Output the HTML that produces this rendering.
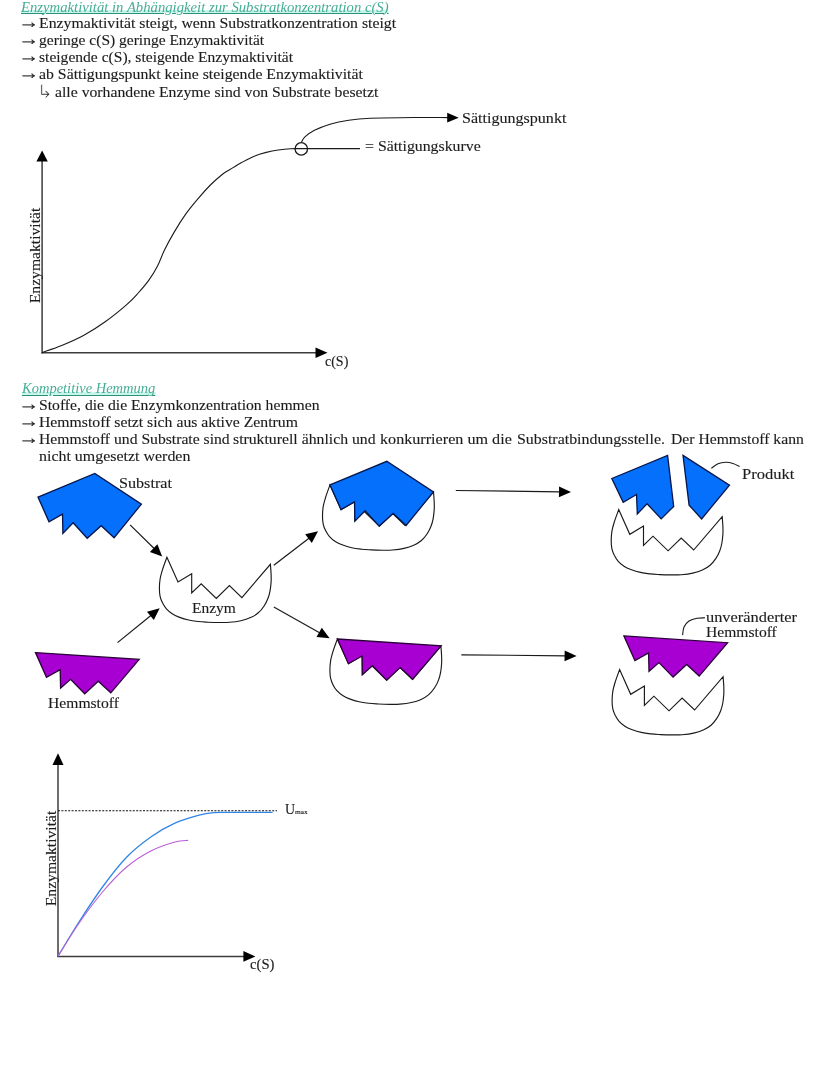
<!DOCTYPE html>
<html lang="de"><head><meta charset="utf-8"><title>Enzymaktivität</title>
<style>
html,body{margin:0;padding:0;background:#fff;}
#pg{position:relative;width:828px;height:1086px;overflow:hidden;background:#fff;font-family:"Liberation Serif", serif;font-size:14px;color:#1c1c1c;}
.t{position:absolute;white-space:pre;line-height:1;margin:0;transform-origin:0 0;}
.h{color:#45ad95;font-style:italic;text-decoration:underline;text-decoration-color:#2c917a;text-decoration-thickness:1px;text-underline-offset:1.5px;margin-top:-0.7px !important;background:linear-gradient(to bottom,rgba(190,243,230,0) 9.6px,rgba(190,243,230,.9) 10.6px,rgba(190,243,230,.9) 12.4px,rgba(190,243,230,0) 13.2px);}
.b{-webkit-text-stroke:0.12px #1c1c1c;}
svg{position:absolute;left:0;top:0;}
</style></head><body><div id="pg">
<svg width="828" height="1086" viewBox="0 0 828 1086" fill="none" stroke-linejoin="miter">
<g id="g1">
<line x1="42.1" y1="353.4" x2="42.1" y2="160.5" stroke="#3c3c3c" stroke-width="1.50"/><polygon points="42.1,150.5 47.8,161.5 36.4,161.5" fill="#000"/>
<line x1="41.4" y1="352.8" x2="316.5" y2="352.8" stroke="#3c3c3c" stroke-width="1.50"/><polygon points="327.5,352.8 315.5,358.1 315.5,347.5" fill="#000"/>
<path d="M42.2,352.4 C45.5,351.2 54.8,348.2 61.7,345.4 C68.6,342.6 76.2,339.3 83.5,335.4 C90.8,331.4 98.0,326.9 105.2,321.7 C112.5,316.5 121.6,309.0 127.0,304.3 C132.4,299.6 134.2,297.5 137.8,293.5 C141.4,289.5 145.4,284.9 148.7,280.4 C152.0,275.9 154.8,271.4 157.4,266.3 C160.0,261.2 161.7,255.7 164.5,250.0 C167.3,244.3 170.6,238.2 174.2,232.1 C177.8,226.0 182.2,219.0 186.2,213.4 C190.2,207.8 194.3,203.0 198.3,198.3 C202.3,193.6 206.4,189.0 210.4,185.0 C214.4,181.0 219.2,176.8 222.5,174.2 C225.8,171.6 226.7,171.5 230.0,169.5 C233.3,167.5 238.1,164.5 242.1,162.3 C246.1,160.1 250.2,157.8 254.2,156.2 C258.2,154.5 262.2,153.4 266.2,152.4 C270.2,151.4 274.3,150.6 278.3,150.0 C282.3,149.4 286.6,148.9 290.4,148.7 C294.2,148.5 294.7,148.6 301.3,148.6 C307.9,148.6 320.2,148.6 330.0,148.6 C339.8,148.6 355.0,148.6 360.0,148.6" stroke="#1a1a1a" stroke-width="1.1"/>
<circle cx="301.3" cy="148.9" r="6.2" stroke="#1a1a1a" stroke-width="1.3"/>
<path d="M301.3,142.6 C301.9,141.7 302.7,138.9 304.9,136.9 C307.1,134.9 310.3,132.4 314.5,130.3 C318.7,128.2 324.3,125.9 330.0,124.2 C335.7,122.5 342.0,121.2 348.7,120.2 C355.4,119.2 359.5,118.7 370.4,118.2 C381.3,117.8 401.0,117.6 413.9,117.5 C426.8,117.4 442.3,117.6 448.0,117.6" stroke="#1a1a1a" stroke-width="1.1"/>
<polygon points="458.7,117.7 447.2,122.6 447.2,112.8" fill="#000"/>
</g>
<g id="g2">
<polygon points="38.0,497.1 94.8,473.5 141.4,504.1 114.1,537.7 101.2,525.7 87.2,538.3 73.1,522.8 62.9,533.4 62.5,514.1 49.0,521.8" fill="#0470fc" stroke="#06154a" stroke-width="1.3"/>
<polygon points="35.5,652.6 139.2,659.4 110.8,692.8 98.3,681.2 84.7,693.8 70.6,679.3 60.6,688.0 60.2,669.6 46.5,677.3" fill="#a800d2" stroke="#2a0038" stroke-width="1.3"/>
<path d="M166.9,557.2 L178.0,581.9 L191.7,573.7 L191.7,593.0 L201.2,583.8 L216.3,598.4 L229.4,585.6 L241.9,597.6 L270.4,564.3 C270.5,566.0 271.0,571.3 271.1,574.2 C271.2,577.1 271.3,579.2 271.1,581.9 C270.9,584.6 270.6,587.9 270.1,590.6 C269.6,593.3 269.0,595.7 268.0,598.3 C267.0,600.9 265.7,603.6 264.1,606.0 C262.5,608.4 260.6,610.9 258.3,612.8 C256.1,614.7 253.5,616.3 250.6,617.6 C247.7,618.9 244.5,619.9 240.9,620.7 C237.3,621.5 232.8,622.0 229.3,622.3 C225.8,622.6 223.2,622.5 219.7,622.5 C216.1,622.5 211.6,622.4 208.0,622.2 C204.4,622.0 201.5,621.9 198.3,621.5 C195.1,621.1 191.8,620.7 188.6,620.0 C185.4,619.3 181.7,618.1 179.0,617.1 C176.3,616.1 174.3,615.2 172.2,613.8 C170.1,612.4 168.0,610.7 166.4,608.9 C164.8,607.1 163.7,605.2 162.6,603.1 C161.5,601.0 160.6,598.8 160.1,596.4 C159.6,594.0 159.4,591.5 159.4,588.6 C159.4,585.7 159.6,582.2 160.1,579.0 C160.6,575.8 161.5,572.9 162.6,569.3 C163.7,565.7 166.2,559.2 166.9,557.2 Z" fill="#fff" stroke="#1a1a1a" stroke-width="1.15"/>
<line x1="130.1" y1="524.9" x2="154.4" y2="548.8" stroke="#1a1a1a" stroke-width="1.20"/><polygon points="162.2,556.5 149.9,551.9 157.4,544.2" fill="#000"/>
<line x1="117.5" y1="642.6" x2="151.2" y2="615.2" stroke="#1a1a1a" stroke-width="1.20"/><polygon points="159.7,608.3 153.8,620.1 147.0,611.7" fill="#000"/>
<line x1="273.8" y1="565.3" x2="309.3" y2="538.0" stroke="#1a1a1a" stroke-width="1.20"/><polygon points="318.0,531.3 311.8,542.9 305.2,534.3" fill="#000"/>
<line x1="273.8" y1="607.0" x2="320.0" y2="632.9" stroke="#1a1a1a" stroke-width="1.20"/><polygon points="329.6,638.3 316.5,637.1 321.8,627.7" fill="#000"/>
<path d="M330.0,484.9 L341.1,509.6 L354.8,501.4 L354.8,520.7 L364.3,511.5 L379.4,526.1 L392.5,513.3 L405.0,525.3 L433.5,492.0 C433.6,493.6 434.1,499.0 434.2,501.9 C434.3,504.8 434.4,506.9 434.2,509.6 C434.0,512.3 433.7,515.6 433.2,518.3 C432.7,521.0 432.1,523.4 431.1,526.0 C430.1,528.6 428.8,531.3 427.2,533.7 C425.6,536.1 423.6,538.6 421.4,540.5 C419.1,542.4 416.6,544.0 413.7,545.3 C410.8,546.6 407.6,547.6 404.0,548.4 C400.4,549.2 395.9,549.7 392.4,550.0 C388.9,550.3 386.4,550.2 382.8,550.2 C379.2,550.2 374.7,550.1 371.1,549.9 C367.5,549.7 364.6,549.6 361.4,549.2 C358.2,548.8 354.9,548.4 351.7,547.7 C348.5,547.0 344.8,545.8 342.1,544.8 C339.4,543.8 337.4,542.9 335.3,541.5 C333.2,540.1 331.1,538.4 329.5,536.6 C327.9,534.8 326.8,532.9 325.7,530.8 C324.6,528.7 323.7,526.5 323.2,524.1 C322.7,521.7 322.5,519.2 322.5,516.3 C322.5,513.4 322.7,509.9 323.2,506.7 C323.7,503.5 324.6,500.6 325.7,497.0 C326.8,493.4 329.3,486.9 330.0,484.9 Z" fill="#fff" stroke="#1a1a1a" stroke-width="1.15"/>
<polygon points="330.0,484.9 386.8,461.3 433.4,491.9 406.1,525.5 393.2,513.5 379.2,526.1 365.1,510.6 354.9,521.2 354.5,501.9 341.0,509.6" fill="#0470fc" stroke="#06154a" stroke-width="1.3"/>
<path d="M337.4,639.0 L348.5,663.7 L362.2,655.5 L362.2,674.8 L371.7,665.6 L386.8,680.2 L399.9,667.4 L412.4,679.4 L440.9,646.1 C441.0,647.8 441.5,653.1 441.6,656.0 C441.7,658.9 441.8,661.0 441.6,663.7 C441.4,666.4 441.1,669.7 440.6,672.4 C440.1,675.1 439.5,677.5 438.5,680.1 C437.5,682.7 436.2,685.4 434.6,687.8 C433.0,690.2 431.0,692.7 428.8,694.6 C426.5,696.5 424.0,698.1 421.1,699.4 C418.2,700.7 414.9,701.7 411.4,702.5 C407.8,703.3 403.3,703.8 399.8,704.1 C396.3,704.4 393.8,704.3 390.2,704.3 C386.6,704.3 382.1,704.2 378.5,704.0 C374.9,703.8 372.0,703.7 368.8,703.3 C365.6,702.9 362.3,702.5 359.1,701.8 C355.9,701.1 352.2,699.9 349.5,698.9 C346.8,697.9 344.8,697.0 342.7,695.6 C340.6,694.2 338.5,692.5 336.9,690.7 C335.3,688.9 334.1,687.0 333.1,684.9 C332.0,682.8 331.1,680.6 330.6,678.2 C330.1,675.8 329.9,673.3 329.9,670.4 C329.9,667.5 330.1,664.0 330.6,660.8 C331.1,657.6 332.0,654.7 333.1,651.1 C334.2,647.5 336.7,641.0 337.4,639.0 Z" fill="#fff" stroke="#1a1a1a" stroke-width="1.15"/>
<polygon points="337.4,639.0 441.1,645.8 412.7,679.2 400.2,667.6 386.6,680.2 372.5,665.7 362.5,674.4 362.1,656.0 348.4,663.7" fill="#a800d2" stroke="#2a0038" stroke-width="1.3"/>
<line x1="455.8" y1="490.5" x2="560.0" y2="491.8" stroke="#1a1a1a" stroke-width="1.20"/><polygon points="571.0,491.9 558.9,497.2 559.1,486.4" fill="#000"/>
<line x1="461.3" y1="654.8" x2="565.6" y2="655.8" stroke="#1a1a1a" stroke-width="1.20"/><polygon points="576.6,655.9 564.5,661.2 564.7,650.4" fill="#000"/>
<path d="M618.7,509.6 L629.8,534.3 L643.5,526.1 L643.5,545.4 L653.0,536.2 L668.1,550.8 L681.2,538.0 L693.7,550.0 L722.2,516.7 C722.3,518.4 722.8,523.7 722.9,526.6 C723.0,529.5 723.1,531.6 722.9,534.3 C722.7,537.0 722.4,540.3 721.9,543.0 C721.4,545.7 720.8,548.1 719.8,550.7 C718.8,553.3 717.5,556.0 715.9,558.4 C714.3,560.8 712.4,563.3 710.1,565.2 C707.9,567.1 705.3,568.7 702.4,570.0 C699.5,571.3 696.2,572.3 692.7,573.1 C689.2,573.9 684.6,574.4 681.1,574.7 C677.6,575.0 675.0,574.9 671.5,574.9 C668.0,574.9 663.4,574.8 659.8,574.6 C656.2,574.4 653.3,574.3 650.1,573.9 C646.9,573.5 643.6,573.1 640.4,572.4 C637.2,571.7 633.5,570.5 630.8,569.5 C628.1,568.5 626.1,567.6 624.0,566.2 C621.9,564.8 619.8,563.1 618.2,561.3 C616.6,559.5 615.5,557.6 614.4,555.5 C613.4,553.4 612.4,551.2 611.9,548.8 C611.4,546.4 611.2,543.9 611.2,541.0 C611.2,538.1 611.4,534.6 611.9,531.4 C612.4,528.2 613.3,525.3 614.4,521.7 C615.5,518.1 618.0,511.6 618.7,509.6 Z" fill="#fff" stroke="#1a1a1a" stroke-width="1.15"/>
<polygon points="611.8,478.5 667.6,455.4 673.7,506.4 661.2,518.9 647.1,503.8 637.3,513.9 636.5,494.5 623.2,502.4" fill="#0470fc" stroke="#06154a" stroke-width="1.3"/>
<polygon points="683.0,455.4 729.5,485.2 701.6,518.9 689.1,505.1" fill="#0470fc" stroke="#06154a" stroke-width="1.3"/>
<path d="M711.3,468.3 C712.4,467.6 715.6,464.8 718.0,463.8 C720.4,462.8 723.3,462.4 725.8,462.3 C728.3,462.2 730.7,462.8 733.0,463.5 C735.3,464.2 738.5,465.9 739.6,466.4" stroke="#1a1a1a" stroke-width="1.1"/>
<path d="M619.6,669.6 L630.7,694.3 L644.4,686.1 L644.4,705.4 L653.9,696.2 L669.0,710.8 L682.1,698.0 L694.6,710.0 L723.1,676.7 C723.2,678.4 723.7,683.7 723.8,686.6 C723.9,689.5 724.0,691.6 723.8,694.3 C723.6,697.0 723.3,700.3 722.8,703.0 C722.3,705.7 721.7,708.1 720.7,710.7 C719.7,713.3 718.4,716.0 716.8,718.4 C715.2,720.8 713.2,723.3 711.0,725.2 C708.8,727.1 706.2,728.7 703.3,730.0 C700.4,731.3 697.2,732.3 693.6,733.1 C690.0,733.9 685.5,734.4 682.0,734.7 C678.5,735.0 675.9,734.9 672.4,734.9 C668.9,734.9 664.3,734.8 660.7,734.6 C657.1,734.4 654.2,734.3 651.0,733.9 C647.8,733.5 644.5,733.1 641.3,732.4 C638.1,731.7 634.4,730.5 631.7,729.5 C629.0,728.5 627.0,727.6 624.9,726.2 C622.8,724.8 620.7,723.1 619.1,721.3 C617.5,719.5 616.4,717.6 615.3,715.5 C614.3,713.4 613.3,711.2 612.8,708.8 C612.3,706.4 612.1,703.9 612.1,701.0 C612.1,698.1 612.3,694.6 612.8,691.4 C613.3,688.2 614.2,685.3 615.3,681.7 C616.4,678.1 618.9,671.6 619.6,669.6 Z" fill="#fff" stroke="#1a1a1a" stroke-width="1.15"/>
<polygon points="623.9,635.9 727.6,642.7 699.2,676.1 686.7,664.5 673.1,677.1 659.0,662.6 649.0,671.3 648.6,652.9 634.9,660.6" fill="#a800d2" stroke="#2a0038" stroke-width="1.3"/>
<path d="M682.6,635.1 C682.8,633.8 682.9,629.4 684.0,627.0 C685.1,624.6 686.8,622.5 689.0,621.0 C691.2,619.5 694.3,618.7 697.0,618.2 C699.7,617.7 703.7,617.9 705.0,617.8" stroke="#1a1a1a" stroke-width="1.1"/>
</g>
<g id="g3">
<line x1="58.0" y1="957.0" x2="58.0" y2="763.9" stroke="#3c3c3c" stroke-width="1.50"/><polygon points="58.0,753.3 63.5,764.9 52.5,764.9" fill="#000"/>
<line x1="57.3" y1="956.4" x2="244.4" y2="956.4" stroke="#3c3c3c" stroke-width="1.50"/><polygon points="255.4,956.4 243.4,961.7 243.4,951.1" fill="#000"/>
<line x1="58" y1="810.8" x2="277" y2="810.8" stroke="#111" stroke-width="1.1" stroke-dasharray="2 1.4"/>
<path d="M58.0,956.2 C61.4,950.7 70.9,934.5 78.3,923.0 C85.7,911.5 94.5,898.0 102.5,887.0 C110.5,876.0 118.5,865.5 126.6,857.2 C134.7,848.9 142.8,842.7 150.8,837.0 C158.9,831.3 166.9,826.8 174.9,823.2 C182.9,819.6 192.7,817.0 199.1,815.2 C205.5,813.5 208.4,813.2 213.6,812.7 C218.8,812.2 220.2,812.5 230.0,812.4 C239.8,812.3 265.4,812.4 272.5,812.4" stroke="#2f86e6" stroke-width="1.3"/>
<path d="M58.0,956.2 C61.4,950.9 70.9,934.9 78.3,924.2 C85.7,913.5 94.5,901.5 102.5,892.0 C110.5,882.5 118.5,873.8 126.6,867.0 C134.7,860.2 142.8,855.2 150.8,851.0 C158.9,846.8 168.7,843.8 174.9,842.0 C181.1,840.2 186.0,840.7 188.2,840.4" stroke="#b95fd6" stroke-width="1.1"/>
</g>
</svg>
<div class="t h" id="h1" style="left:21.40px;top:1.50px;transform:scaleX(1.0500);text-underline-offset:0.5px;background-position:0 -1px">Enzymaktivität in Abhängigkeit zur Substratkonzentration c(S)</div>
<div class="t b" id="l1" style="left:39.10px;top:17.30px;transform:scaleX(1.1269)">Enzymaktivität steigt, wenn Substratkonzentration steigt</div>
<div class="t b" id="l2" style="left:39.10px;top:34.30px;transform:scaleX(1.1071)">geringe c(S) geringe Enzymaktivität</div>
<div class="t b" id="l3" style="left:39.10px;top:51.40px;transform:scaleX(1.1116)">steigende c(S), steigende Enzymaktivität</div>
<div class="t b" id="l4" style="left:39.10px;top:68.40px;transform:scaleX(1.1288)">ab Sättigungspunkt keine steigende Enzymaktivität</div>
<div class="t b" id="l5" style="left:54.90px;top:85.50px;transform:scaleX(1.1237)">alle vorhandene Enzyme sind von Substrate besetzt</div>
<div class="t h" id="h2" style="left:21.60px;top:383.10px;transform:scaleX(1.0357)">Kompetitive Hemmung</div>
<div class="t b" id="l6" style="left:39.10px;top:399.30px;transform:scaleX(1.1201)">Stoffe, die die Enzymkonzentration hemmen</div>
<div class="t b" id="l7" style="left:39.10px;top:416.20px;transform:scaleX(1.1242)">Hemmstoff setzt sich aus aktive Zentrum</div>
<div class="t b" id="l8a" style="left:39.10px;top:433.20px;transform:scaleX(1.1187)">Hemmstoff und Substrate sind </div>
<div class="t b" id="l8b" style="left:233.30px;top:433.20px;transform:scaleX(1.1249)">strukturell ähnlich und </div>
<div class="t b" id="l8c" style="left:380.00px;top:433.20px;transform:scaleX(1.1531)">konkurrieren um die </div>
<div class="t b" id="l8d" style="left:516.70px;top:433.20px;transform:scaleX(1.1360)">Substratbindungsstelle. </div>
<div class="t b" id="l8e" style="left:670.60px;top:433.20px;transform:scaleX(1.1186)">Der Hemmstoff kann</div>
<div class="t b" id="l9" style="left:39.10px;top:450.10px;transform:scaleX(1.1387)">nicht umgesetzt werden</div>
<div class="t b" id="sp" style="left:462.40px;top:111.90px;transform:scaleX(1.1471)">Sättigungspunkt</div>
<div class="t b" id="sk" style="left:364.60px;top:140.20px;transform:scaleX(1.1300)">= Sättigungskurve</div>
<div class="t b" id="cs1" style="left:325.40px;top:354.50px;transform:scaleX(0.9988)">c(S)</div>
<div class="t b" id="sub" style="left:119.40px;top:477.30px;transform:scaleX(1.1527)">Substrat</div>
<div class="t b" id="enz" style="left:192.00px;top:602.20px;transform:scaleX(1.1070)">Enzym</div>
<div class="t b" id="hem" style="left:48.40px;top:696.60px;transform:scaleX(1.1163)">Hemmstoff</div>
<div class="t b" id="pro" style="left:742.10px;top:467.80px;transform:scaleX(1.1817)">Produkt</div>
<div class="t b" id="unv" style="left:705.80px;top:610.90px;transform:scaleX(1.1694)">unveränderter</div>
<div class="t b" id="hem2" style="left:705.80px;top:625.80px;transform:scaleX(1.1147)">Hemmstoff</div>
<div class="t b" id="cs2" style="left:250.40px;top:958.30px;transform:scaleX(1.0502)">c(S)</div>
<div class="t b" id="U" style="left:284.70px;top:803.20px;transform:scaleX(0.9975)">U</div>
<div class="t b ar" id="a0" style="left:18.10px;top:14.10px;transform:scale(1.5,1.3)">→</div>
<div class="t b ar" id="a1" style="left:18.10px;top:31.10px;transform:scale(1.5,1.3)">→</div>
<div class="t b ar" id="a2" style="left:18.10px;top:48.20px;transform:scale(1.5,1.3)">→</div>
<div class="t b ar" id="a3" style="left:18.10px;top:65.20px;transform:scale(1.5,1.3)">→</div>
<div class="t b ar" id="a4" style="left:18.10px;top:396.10px;transform:scale(1.5,1.3)">→</div>
<div class="t b ar" id="a5" style="left:18.10px;top:413.00px;transform:scale(1.5,1.3)">→</div>
<div class="t b ar" id="a6" style="left:18.10px;top:430.00px;transform:scale(1.5,1.3)">→</div>
<div class="t" id="a5x" style="left:36.9px;top:82.8px;font-family:'DejaVu Sans',sans-serif;font-size:18.5px;-webkit-text-stroke:0.7px #fff">↳</div>
<div class="t b" id="vl1" style="left:0;top:0;transform:translate(29.3px,303.2px) rotate(-90deg) scaleX(1.1166)">Enzymaktivität</div>
<div class="t b" id="vl2" style="left:0;top:0;transform:translate(44.9px,906.2px) rotate(-90deg) scaleX(1.1166)">Enzymaktivität</div>
<div class="t b" id="mx" style="left:294.6px;top:808.77px;font-size:6.6px;transform:scaleX(1.12)">max</div>
</div></body></html>
